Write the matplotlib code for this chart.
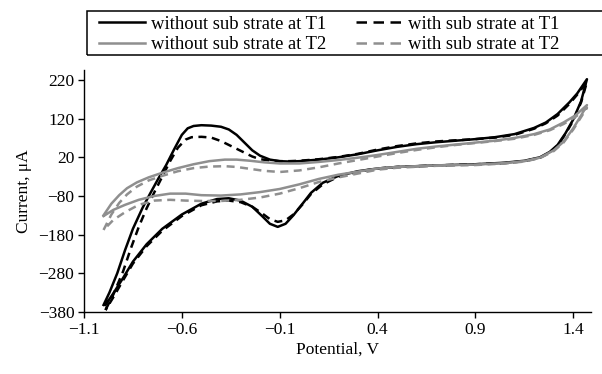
import matplotlib
matplotlib.use("Agg")
import matplotlib.pyplot as plt
from matplotlib.lines import Line2D
from matplotlib.patches import Rectangle

plt.rcParams.update({
    "font.family": ["Liberation Serif", "DejaVu Serif"],
    "font.size": 12,
})

# Cyclic voltammograms: potential (V), current (uA).
# Each loop starts at the lower-left vertex, sweeps to the right, then back.
t1_plain_v = [-1.00, -0.97, -0.93, -0.89, -0.85, -0.80, -0.76, -0.72, -0.68, -0.64, -0.60,
              -0.57, -0.54, -0.50, -0.45, -0.40, -0.36, -0.32, -0.28, -0.24, -0.20, -0.15,
              -0.10, -0.05, 0.00, 0.10, 0.20, 0.30, 0.40, 0.50, 0.60, 0.70, 0.80, 0.90,
              1.00, 1.10, 1.20, 1.26, 1.32, 1.38, 1.42, 1.47,
              1.44, 1.40, 1.36, 1.32, 1.28, 1.23, 1.15, 1.05, 0.90, 0.70, 0.50, 0.40,
              0.30, 0.20, 0.12, 0.06, 0.02, -0.03, -0.07, -0.11, -0.15, -0.19, -0.24,
              -0.30, -0.36, -0.42, -0.50, -0.60, -0.70, -0.78, -0.85, -0.90, -0.95, -0.99]
t1_plain_i = [-362, -330, -280, -220, -165, -110, -72, -35, 0, 40, 78,
              95, 101, 103, 102, 99, 92, 78, 58, 38, 24, 14,
              10, 9, 10, 14, 20, 28, 38, 47, 54, 59, 63, 67,
              72, 80, 96, 110, 132, 162, 185, 222,
              165, 118, 82, 52, 34, 20, 11, 6, 2, -1, -5, -9,
              -16, -28, -46, -72, -98, -130, -152, -160, -152, -132, -108,
              -92, -86, -88, -100, -128, -165, -205, -250, -292, -332, -362]

t1_sub_v = [-0.99, -0.95, -0.90, -0.86, -0.82, -0.78, -0.74, -0.70, -0.66, -0.62, -0.58,
            -0.55, -0.50, -0.45, -0.40, -0.36, -0.32, -0.28, -0.24, -0.20, -0.15,
            -0.10, -0.05, 0.00, 0.10, 0.20, 0.30, 0.40, 0.50, 0.60, 0.70, 0.80, 0.90,
            1.00, 1.10, 1.20, 1.26, 1.32, 1.38, 1.42, 1.47,
            1.44, 1.40, 1.36, 1.32, 1.28, 1.23, 1.15, 1.05, 0.90, 0.70, 0.50, 0.40,
            0.30, 0.20, 0.12, 0.06, 0.02, -0.03, -0.07, -0.11, -0.15, -0.19, -0.24,
            -0.30, -0.36, -0.42, -0.50, -0.60, -0.70, -0.78, -0.85, -0.90, -0.95, -0.99]
t1_sub_i = [-375, -335, -275, -215, -160, -112, -70, -30, 10, 45, 66,
            72, 73, 71, 62, 52, 42, 32, 22, 15, 12,
            10, 10, 11, 15, 21, 29, 40, 49, 56, 61, 64, 67,
            71, 78, 94, 108, 128, 158, 182, 215,
            162, 115, 80, 50, 32, 19, 10, 5, 2, -1, -5, -9,
            -17, -30, -50, -75, -100, -128, -143, -147, -140, -125, -108,
            -96, -92, -94, -104, -132, -170, -210, -255, -298, -342, -375]

t2_plain_v = [-1.00, -0.96, -0.92, -0.88, -0.83, -0.77, -0.70, -0.62, -0.54, -0.46, -0.38,
              -0.32, -0.25, -0.18, -0.10, 0.00, 0.10, 0.20, 0.30, 0.40, 0.50, 0.60,
              0.70, 0.80, 0.90, 1.00, 1.10, 1.20, 1.28, 1.35, 1.41, 1.47,
              1.44, 1.40, 1.35, 1.30, 1.23, 1.15, 1.05, 0.90, 0.70, 0.50, 0.40,
              0.30, 0.20, 0.10, 0.00, -0.10, -0.20, -0.30, -0.40, -0.50, -0.58,
              -0.66, -0.74, -0.82, -0.89, -0.95, -1.00]
t2_plain_i = [-130, -100, -78, -60, -45, -32, -20, -8, 2, 10, 14,
              14, 11, 7, 4, 4, 8, 13, 19, 26, 34, 42,
              48, 53, 58, 63, 70, 80, 92, 110, 128, 155,
              128, 95, 60, 38, 19, 10, 5, 1, -1, -5, -9,
              -17, -25, -36, -50, -62, -70, -76, -79, -78, -74,
              -74, -80, -90, -103, -116, -132]

t2_sub_v = [-1.00, -0.96, -0.92, -0.88, -0.83, -0.77, -0.70, -0.62, -0.54, -0.46, -0.38,
            -0.32, -0.25, -0.18, -0.10, 0.00, 0.10, 0.20, 0.30, 0.40, 0.50, 0.60,
            0.70, 0.80, 0.90, 1.00, 1.10, 1.20, 1.28, 1.35, 1.41, 1.47,
            1.44, 1.40, 1.35, 1.30, 1.23, 1.15, 1.05, 0.90, 0.70, 0.50, 0.40,
            0.30, 0.20, 0.10, 0.00, -0.10, -0.20, -0.30, -0.40, -0.50, -0.58,
            -0.66, -0.74, -0.82, -0.89, -0.95, -1.00]
t2_sub_i = [-168, -128, -98, -76, -56, -40, -28, -16, -8, -4, -3,
            -5, -10, -15, -18, -14, -6, 4, 13, 22, 31, 39,
            46, 52, 57, 62, 68, 78, 90, 106, 124, 148,
            124, 92, 58, 36, 18, 9, 4, 0, -2, -7, -12,
            -22, -32, -44, -60, -74, -84, -90, -93, -93, -92,
            -90, -92, -103, -122, -142, -168]

labels = ["without sub strate at T1", "with sub strate at T1",
          "without sub strate at T2", "with sub strate at T2"]
x_ticks = [-1.1, -0.6, -0.1, 0.4, 0.9, 1.4]
y_ticks = [-380, -280, -180, -80, 20, 120, 220]

gray = "#8f8f8f"
dash = (0, (3.2, 2.2))

fig = plt.figure(figsize=(6.02, 3.74), dpi=100)
ax = fig.add_axes([0.1395, 0.166, 0.842, 0.647])

ax.plot(t1_plain_v, t1_plain_i, color="black", lw=1.8)
ax.plot(t1_sub_v, t1_sub_i, color="black", lw=1.8, linestyle=dash)
ax.plot(t2_plain_v, t2_plain_i, color=gray, lw=1.8)
ax.plot(t2_sub_v, t2_sub_i, color=gray, lw=1.8, linestyle=dash)

ax.set_xlim(-1.1, 1.49)
ax.set_ylim(-380, 246)
ax.set_xticks(x_ticks, [f"{t:.1f}".replace("-", "\u2212") for t in x_ticks])
ax.set_yticks(y_ticks)
ax.tick_params(direction="out", length=4, width=1, labelsize=12.5, pad=3)

# Only left and bottom spines.
ax.spines["right"].set_visible(False)
ax.spines["top"].set_visible(False)
ax.spines["left"].set_linewidth(1)
ax.spines["bottom"].set_linewidth(1)

ax.set_xlabel("Potential, V", fontsize=12.5, labelpad=3)
ax.set_ylabel("Current, μA", fontsize=12.5, labelpad=5)

# Legend proxies: longer dashes in the key than on the curves.
key_dash = (0, (4.2, 2.6))
h1 = Line2D([], [], color="black", lw=1.8)
h2 = Line2D([], [], color="black", lw=1.8, linestyle=key_dash)
h3 = Line2D([], [], color=gray, lw=1.8)
h4 = Line2D([], [], color=gray, lw=1.8, linestyle=key_dash)

# Rows are T1 and T2 (matplotlib fills by column).
leg = fig.legend(handles=[h1, h3, h2, h4], labels=[labels[0], labels[2], labels[1], labels[3]],
                 loc="upper left", bbox_to_anchor=(0.164, 0.958), ncol=2,
                 frameon=False, fontsize=13.4,
                 handlelength=2.5, handletextpad=0.3, columnspacing=1.6,
                 borderpad=0, labelspacing=0.18, borderaxespad=0)

# The box runs off the right edge of the figure.
fig.add_artist(Rectangle((87 / 602, 1 - 55 / 374), 520 / 602, 44 / 374,
                         transform=fig.transFigure, fill=False,
                         edgecolor="black", lw=1.1))

fig.savefig("out.png", dpi=100)
